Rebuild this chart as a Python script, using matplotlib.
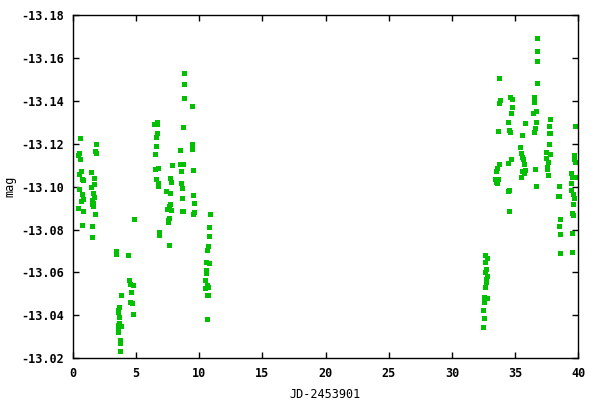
import matplotlib
matplotlib.use("Agg")
import matplotlib.pyplot as plt
import numpy as np

# JD-2453901 and magnitude
jd = [0.60, 1.87, 1.79, 1.87, 0.52, 0.44, 0.60, 0.68, 0.52, 1.47,
      1.71, 0.76, 0.84, 1.71, 1.47, 0.52, 0.76, 1.63, 1.71, 0.84,
      0.68, 1.55, 1.63, 1.55, 1.63, 0.44, 0.84, 1.79, 0.76, 1.55,
      1.55,
      4.87, 3.45, 3.45, 4.40, 4.48, 4.56, 4.79, 3.84, 4.64, 4.56,
      4.72, 3.69, 3.56, 3.61, 3.69, 4.79, 3.69, 3.61, 3.84, 3.61,
      3.56, 3.77, 3.77, 3.77,
      8.83, 8.83, 8.83, 9.46, 6.69, 6.46, 6.69, 8.75, 6.69, 6.61,
      6.61, 9.46, 9.46, 8.47, 6.53, 7.88, 8.51, 8.75, 8.59, 9.54,
      6.53, 6.77, 6.61, 7.72, 7.80, 6.77, 6.77, 8.59, 8.67, 7.41,
      7.72, 9.54, 8.67, 7.72, 7.64, 9.62, 7.48, 7.80, 8.67, 8.75,
      9.62, 9.54, 10.89, 7.64, 7.56, 7.56, 10.81, 6.85, 6.85, 10.81,
      7.64, 10.73, 10.65, 10.57, 10.81, 10.57, 10.57, 10.49, 10.65, 10.73,
      10.49, 10.65, 10.73, 10.65,
      32.64, 32.80, 32.64, 32.72, 32.64, 32.80, 32.72, 32.72, 32.64, 32.56,
      32.80, 32.56, 32.48, 32.56, 32.48,
      33.75, 33.83, 33.75, 34.62, 34.78, 34.78, 34.70, 34.46, 35.81, 33.67,
      34.54, 34.62, 35.57, 35.41, 35.49, 35.57, 35.65, 35.73, 34.70, 34.46,
      33.75, 33.59, 33.51, 35.57, 35.81, 35.73, 35.49, 33.43, 33.67, 33.51,
      33.59, 34.46, 34.54, 34.54,
      36.76, 36.76, 36.76, 36.76, 36.52, 36.52, 36.44, 36.68, 36.68, 36.60,
      36.52, 37.78, 37.71, 37.71, 37.78, 39.76, 37.71, 37.47, 37.78, 37.47,
      37.63, 37.55, 37.55, 37.63, 36.60, 36.68, 39.68, 39.68, 39.76, 39.45,
      39.53, 39.76, 39.45, 39.45, 39.61, 39.68, 39.61, 39.53, 39.61, 39.53,
      39.53, 38.50, 38.42, 38.50, 38.58, 38.50, 38.58, 38.58]

mag = [-13.1225, -13.1197, -13.1168, -13.1156, -13.1156, -13.1146, -13.1128, -13.1072, -13.1058, -13.1067,
       -13.1039, -13.1034, -13.1030, -13.1011, -13.0997, -13.0988, -13.0964, -13.0969, -13.0950, -13.0941,
       -13.0932, -13.0936, -13.0923, -13.0918, -13.0909, -13.0899, -13.0885, -13.0871, -13.0820, -13.0815,
       -13.0764,
       -13.0851, -13.0699, -13.0685, -13.0680, -13.0564, -13.0545, -13.0540, -13.0494, -13.0508, -13.0461,
       -13.0457, -13.0438, -13.0424, -13.0415, -13.0391, -13.0405, -13.0363, -13.0354, -13.0352, -13.0337,
       -13.0321, -13.0284, -13.0270, -13.0233,
       -13.1530, -13.1477, -13.1412, -13.1375, -13.1301, -13.1291, -13.1291, -13.1277, -13.1249, -13.1230,
       -13.1188, -13.1197, -13.1174, -13.1169, -13.1151, -13.1100, -13.1104, -13.1104, -13.1072, -13.1076,
       -13.1081, -13.1086, -13.1034, -13.1039, -13.1020, -13.1016, -13.1002, -13.1016, -13.0992, -13.0978,
       -13.0969, -13.0960, -13.0946, -13.0918, -13.0909, -13.0923, -13.0895, -13.0890, -13.0885, -13.0885,
       -13.0881, -13.0871, -13.0871, -13.0853, -13.0843, -13.0834, -13.0811, -13.0787, -13.0773, -13.0769,
       -13.0727, -13.0722, -13.0703, -13.0648, -13.0643, -13.0610, -13.0596, -13.0564, -13.0540, -13.0531,
       -13.0526, -13.0494, -13.0494, -13.0382,
       -13.0680, -13.0666, -13.0648, -13.0615, -13.0601, -13.0582, -13.0568, -13.0554, -13.0531, -13.0484,
       -13.0480, -13.0461, -13.0424, -13.0387, -13.0345,
       -13.1505, -13.1403, -13.1389, -13.1416, -13.1407, -13.1370, -13.1342, -13.1300, -13.1295, -13.1258,
       -13.1263, -13.1253, -13.1239, -13.1183, -13.1156, -13.1137, -13.1128, -13.1104, -13.1128, -13.1109,
       -13.1104, -13.1086, -13.1072, -13.1072, -13.1076, -13.1062, -13.1044, -13.1034, -13.1034, -13.1020,
       -13.1016, -13.0978, -13.0983, -13.0885,
       -13.1691, -13.1631, -13.1584, -13.1482, -13.1416, -13.1393, -13.1342, -13.1351, -13.1300, -13.1272,
       -13.1253, -13.1314, -13.1281, -13.1249, -13.1249, -13.1281, -13.1197, -13.1160, -13.1151, -13.1132,
       -13.1114, -13.1090, -13.1081, -13.1053, -13.1081, -13.1002, -13.1146, -13.1128, -13.1114, -13.1062,
       -13.1044, -13.1044, -13.1016, -13.0983, -13.0964, -13.0946, -13.0918, -13.0876, -13.0867, -13.0783,
       -13.0694, -13.1002, -13.0955, -13.0955, -13.0848, -13.0815, -13.0778, -13.0690]

xticks = np.arange(0, 41, 5)
yticks = [-13.02, -13.04, -13.06, -13.08, -13.10, -13.12, -13.14, -13.16, -13.18]

plt.rcParams['font.family'] = 'DejaVu Sans Mono'
plt.rcParams['font.weight'] = 'bold'
plt.rcParams['axes.unicode_minus'] = False

fig = plt.figure(figsize=(6, 4), dpi=100)
ax = fig.add_axes([0.1212, 0.1043, 0.8426, 0.8582])

ax.plot(jd, mag, 's', color='#00c000', markersize=3.6, markeredgewidth=0)

ax.set_xlim(0, 40)
ax.set_ylim(-13.02, -13.18)
ax.set_xticks(xticks)
ax.set_xticklabels([str(t) for t in xticks])
ax.set_yticks(yticks)
ax.set_yticklabels(['%.2f' % t for t in yticks])

ax.tick_params(direction='in', length=4, width=1, labelsize=8.5,
               top=True, right=True, pad=6)
for s in ax.spines.values():
    s.set_linewidth(1)

ax.set_xlabel('JD-2453901', fontsize=8.5, labelpad=6)
ax.set_ylabel('mag', fontsize=8.5, labelpad=4)

fig.savefig('out.png', dpi=100)
